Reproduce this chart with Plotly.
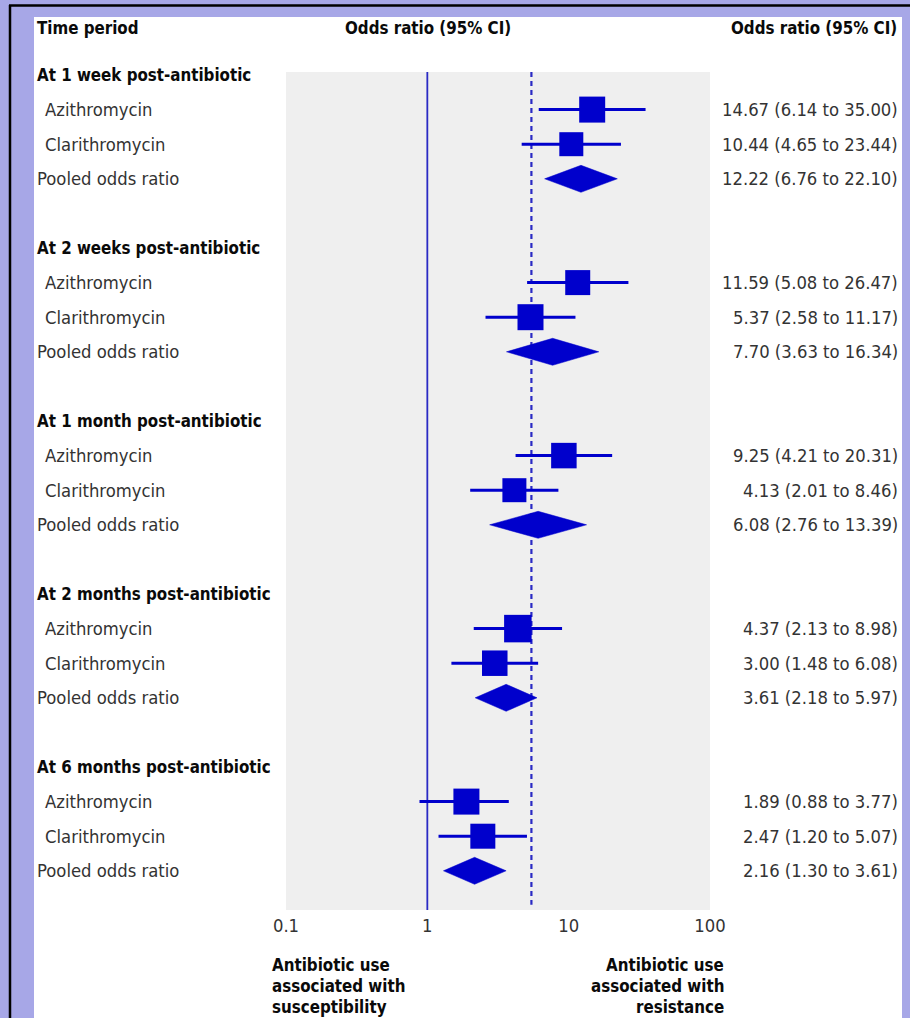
import plotly.graph_objects as go

# ---------------- data ----------------
groups = ["At 1 week post-antibiotic", "At 2 weeks post-antibiotic",
          "At 1 month post-antibiotic", "At 2 months post-antibiotic",
          "At 6 months post-antibiotic"]
drugs = ["Azithromycin", "Clarithromycin"]
pooled_label = "Pooled odds ratio"

az_or = [14.67, 11.59, 9.25, 4.37, 1.89]
az_lo = [6.14, 5.08, 4.21, 2.13, 0.88]
az_hi = [35.00, 26.47, 20.31, 8.98, 3.77]

cl_or = [10.44, 5.37, 4.13, 3.00, 2.47]
cl_lo = [4.65, 2.58, 2.01, 1.48, 1.20]
cl_hi = [23.44, 11.17, 8.46, 6.08, 5.07]

pool_or = [12.22, 7.70, 6.08, 3.61, 2.16]
pool_lo = [6.76, 3.63, 2.76, 2.18, 1.30]
pool_hi = [22.10, 16.34, 13.39, 5.97, 3.61]

overall_or = 5.45            # dashed reference line

az_weight = [26, 25, 25.5, 27.5, 26]   # square marker sizes (study weight)
cl_weight = [24, 26, 24, 25.5, 25]

tick_vals = [0.1, 1, 10, 100]
tick_text = ["0.1", "1", "10", "100"]

# ---------------- layout helpers ----------------
W, H = 910, 1018
PL, PR, PT, PB = 286, 710, 72, 910       # plot area in pixels
ROW0, ROWH = 75, 34.6
Y_TOP = (PT - ROW0) / ROWH
Y_BOT = (PB - ROW0) / ROWH


def px(x):
    return (x - PL) / (PR - PL)


def py(y):
    return (PB - y) / (PB - PT)


BLUE = "#0000cc"
LINEBLUE = "#2a2ac4"
LAV = "#a7a7e7"
FONT = "DejaVu Sans Condensed, Liberation Sans Narrow, sans-serif"
TXT = "#333333"
BOLD = "#0a0a0a"
REG_SIZE = 18.3
BOLD_SIZE = 16.8

fig = go.Figure()

rows_head, rows_az, rows_cl, rows_pool = [], [], [], []
for g in range(len(groups)):
    base = g * 5
    rows_head.append(base)
    rows_az.append(base + 1)
    rows_cl.append(base + 2)
    rows_pool.append(base + 3)

# reference lines
fig.add_trace(go.Scatter(x=[1, 1], y=[Y_TOP, Y_BOT], mode="lines",
                         line=dict(color=LINEBLUE, width=1.8),
                         hoverinfo="skip", showlegend=False))
fig.add_trace(go.Scatter(x=[overall_or, overall_or], y=[Y_TOP, Y_BOT - 0.15],
                         mode="lines",
                         line=dict(color=LINEBLUE, width=2.2, dash="5px,4px"),
                         hoverinfo="skip", showlegend=False))

# CI lines
ci_x, ci_y = [], []
for lo, hi, r in list(zip(az_lo, az_hi, rows_az)) + list(zip(cl_lo, cl_hi, rows_cl)):
    ci_x += [lo, hi, None]
    ci_y += [r, r, None]
fig.add_trace(go.Scatter(x=ci_x, y=ci_y, mode="lines",
                         line=dict(color=BLUE, width=3),
                         hoverinfo="skip", showlegend=False))

# squares
fig.add_trace(go.Scatter(x=az_or + cl_or, y=rows_az + rows_cl, mode="markers",
                         marker=dict(symbol="square", color=BLUE, opacity=1,
                                     size=az_weight + cl_weight,
                                     line=dict(width=0)),
                         hoverinfo="skip", showlegend=False))

# pooled diamonds
DH = 13.5 / ROWH
for est, lo, hi, r in zip(pool_or, pool_lo, pool_hi, rows_pool):
    fig.add_trace(go.Scatter(x=[lo, est, hi, est, lo],
                             y=[r, r - DH, r, r + DH, r],
                             mode="lines", fill="toself", fillcolor=BLUE,
                             line=dict(color=BLUE, width=0.5),
                             hoverinfo="skip", showlegend=False))

# ---------------- text ----------------
ann = []


def text(x, y, s, anchor="left", bold=False, size=None, yref="y", color=None):
    if size is None:
        size = BOLD_SIZE if bold else REG_SIZE
    ann.append(dict(x=x, y=y, xref="paper", yref=yref,
                    text=("<b>%s</b>" % s) if bold else s,
                    showarrow=False, xanchor=anchor, yanchor="middle",
                    font=dict(family=FONT, size=size,
                              color=color or (BOLD if bold else TXT))))


text(px(35), py(28), "Time period", bold=True, yref="paper")
text(px(428), py(28), "Odds ratio (95% CI)", anchor="center", bold=True, yref="paper")
text(px(899), py(28), "Odds ratio (95% CI)", anchor="right", bold=True, yref="paper")

for g, name in enumerate(groups):
    text(px(35), rows_head[g], name, bold=True)
    text(px(43), rows_az[g], drugs[0])
    text(px(43), rows_cl[g], drugs[1])
    text(px(35), rows_pool[g], pooled_label)
    for vals, r in (((az_or, az_lo, az_hi), rows_az[g]),
                    ((cl_or, cl_lo, cl_hi), rows_cl[g]),
                    ((pool_or, pool_lo, pool_hi), rows_pool[g])):
        o, lo, hi = vals[0][g], vals[1][g], vals[2][g]
        text(px(900), r, "%.2f (%.2f to %.2f)" % (o, lo, hi), anchor="right")

left_lines = ["Antibiotic use", "associated with", "susceptibility"]
right_lines = ["Antibiotic use", "associated with", "resistance"]
for i, (a, b) in enumerate(zip(left_lines, right_lines)):
    yy = 965 + 21 * i
    text(px(270), py(yy), a, bold=True, yref="paper")
    text(px(726), py(yy), b, anchor="right", bold=True, yref="paper")

# ---------------- background shapes ----------------
shapes = [
    dict(type="rect", xref="paper", yref="paper", x0=px(34), x1=px(902),
         y0=py(1030), y1=py(17), fillcolor="white", line=dict(width=0), layer="below"),
    dict(type="rect", xref="paper", yref="paper", x0=0, x1=1, y0=0, y1=1,
         fillcolor="#efefef", line=dict(width=0), layer="below"),
    dict(type="line", xref="paper", yref="paper", x0=px(9), x1=px(915),
         y0=py(5.5), y1=py(5.5), line=dict(color="black", width=2.5)),
    dict(type="line", xref="paper", yref="paper", x0=px(10), x1=px(10),
         y0=py(5), y1=py(1030), line=dict(color="black", width=2.5)),
]

fig.update_layout(
    width=W, height=H, autosize=False,
    margin=dict(l=PL, r=W - PR, t=PT, b=H - PB, pad=0),
    paper_bgcolor=LAV,
    plot_bgcolor="rgba(0,0,0,0)",
    showlegend=False,
    annotations=ann,
    shapes=shapes,
    xaxis=dict(type="log", range=[-1, 2], tickvals=tick_vals, ticktext=tick_text,
               showgrid=False, zeroline=False, showline=False, ticks="",
               ticklabelstandoff=3,
               tickfont=dict(family=FONT, size=REG_SIZE, color=TXT), fixedrange=True),
    yaxis=dict(range=[Y_BOT, Y_TOP], visible=False, fixedrange=True),
)

fig.write_html(
    "out.html",
    config={"displayModeBar": False},
    post_script="document.body.style.margin='0';document.body.style.overflow='hidden';"
                "document.body.style.background='%s';" % LAV,
)
